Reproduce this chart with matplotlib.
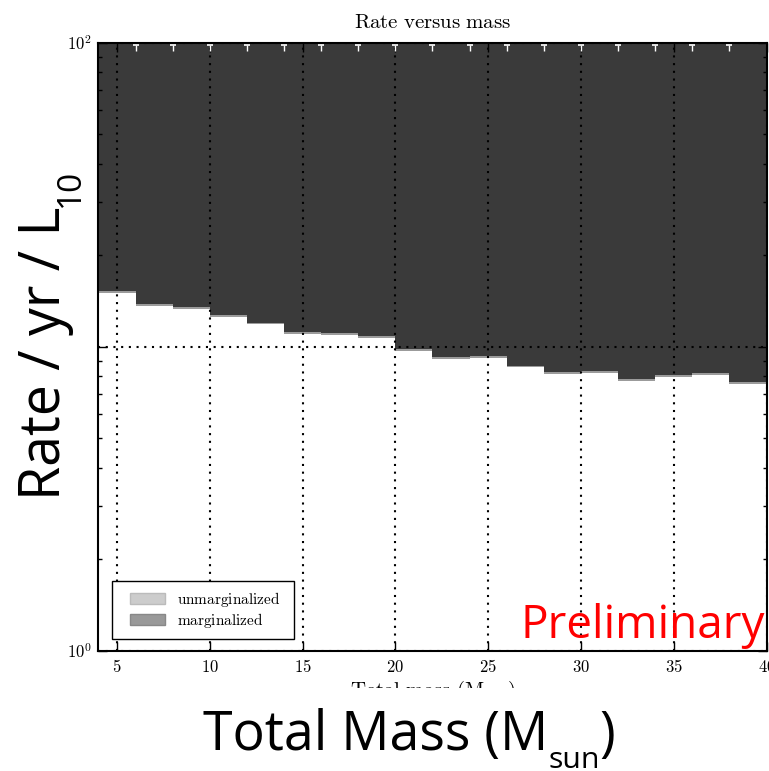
import numpy as np
import matplotlib
matplotlib.use("Agg")
import matplotlib.pyplot as plt
import matplotlib.transforms as mtransforms
from matplotlib.patches import Patch, Rectangle
from matplotlib.legend_handler import HandlerPatch
from matplotlib.ticker import FixedLocator, FuncFormatter, LogLocator, NullFormatter

plt.rcParams["mathtext.fontset"] = "cm"

# Total-mass bins (M_sun) and the rate upper limits in each bin
mass_edges = np.arange(4, 42, 2)
rate_unmarg = [15.24, 13.81, 13.56, 12.74, 12.02, 11.17, 11.07, 10.86, 9.87,
               9.24, 9.35, 8.68, 8.29, 8.33, 7.84, 8.08, 8.19, 7.68]
rate_marg = [15.00, 13.60, 13.35, 12.55, 11.85, 11.00, 10.90, 10.70, 9.72,
             9.10, 9.22, 8.56, 8.16, 8.22, 7.72, 7.97, 8.08, 7.55]
x_ticks = [5, 10, 15, 20, 25, 30, 35, 40]
y_ticks = [1, 10, 100]
y_labelled = [1, 100]
legend_labels = ["unmarginalized", "marginalized"]

W, H = 769, 771
fig = plt.figure(figsize=(W / 100, H / 100), dpi=100)
ax = fig.add_axes([98.5 / W, 1 - 650.7 / H, 668 / W, (650.7 - 43) / H])

ax.stairs(rate_marg, mass_edges, baseline=100, fill=True,
          facecolor="#9b9b9b", edgecolor="none", lw=0, zorder=1)
ax.stairs(rate_unmarg, mass_edges, baseline=100, fill=True,
          facecolor="#3a3a3a", edgecolor="none", lw=0, zorder=1.1)

ax.set_yscale("log")
ax.set_xlim(mass_edges[0], mass_edges[-1])
ax.set_ylim(y_ticks[0], y_ticks[-1])

ax.set_xticks(x_ticks)
ax.xaxis.set_major_formatter(FuncFormatter(lambda v, p: f"${v:g}$"))
ax.yaxis.set_major_locator(FixedLocator(y_ticks))


def ylab(v, p):
    if not any(np.isclose(v, y_labelled)):
        return ""
    return f"$10^{{{int(round(np.log10(v)))}}}$"


ax.yaxis.set_major_formatter(FuncFormatter(ylab))
ax.yaxis.set_minor_locator(LogLocator(base=10, subs=range(2, 10)))
ax.yaxis.set_minor_formatter(NullFormatter())

ax.grid(True, which="major", color="k", linestyle=(0, (1, 2.7)), linewidth=1.5)
ax.tick_params(which="both", direction="in", top=True, right=True, width=1)
ax.tick_params(which="major", length=6.5, labelsize=12, pad=5)
ax.tick_params(which="minor", length=3)
for s in ax.spines.values():
    s.set_linewidth(1.5)

# white caps hanging from the top of the plot at the inner bin edges
inner = mass_edges[1:-1]
cap_tr = mtransforms.offset_copy(ax.transData, fig=fig, x=0, y=-1.5, units="dots")
ax.plot(inner, np.full(len(inner), 100.0), ls="none", marker=3, ms=4.5, mew=1,
        color="w", transform=cap_tr, clip_on=False, zorder=4)
ax.plot(inner, np.full(len(inner), 100.0), ls="none", marker="_", ms=4.5, mew=1.2,
        color="w", transform=cap_tr, clip_on=False, zorder=4)

handles = [Patch(facecolor="#cccccc", edgecolor="#bbbbbb"),
           Patch(facecolor="#999999", edgecolor="#888888")]
leg = ax.legend(handles, [rf"$\mathrm{{{t}}}$" for t in legend_labels],
                loc="lower left", bbox_to_anchor=(0.0202, 0.0193, 0.2725, 0.092),
                mode="expand", borderaxespad=0, fontsize=11, fancybox=False,
                framealpha=1, borderpad=0.6, handlelength=2.86,
                handletextpad=0.78, labelspacing=0.12,
                handler_map={Patch: HandlerPatch(xpad=0.575)})
leg.get_frame().set_edgecolor("k")
leg.get_frame().set_linewidth(1)
leg.set_zorder(5)

ax.set_xlabel(r"$\mathrm{Total\ mass\ (M_{sun})}$", fontsize=15, labelpad=2)

fig.text(432.5 / W, 1 - 28 / H, r"$\mathrm{Rate\ versus\ mass}$",
         fontsize=15, ha="center", va="baseline")

# white panel behind the large x label
fig.add_artist(Rectangle((0, 0), 1, (H - 688) / H, transform=fig.transFigure,
                         facecolor="w", edgecolor="none", zorder=5))

renderer = fig.canvas.get_renderer()
big = dict(family="Open Sans", color="k", zorder=6)

# x label with subscript
FX = 38.6
t1 = fig.text(203 / W, 1 - 750 / H, "Total Mass (M", fontsize=FX,
              ha="left", va="baseline", **big)
b1 = t1.get_window_extent(renderer)
t2 = fig.text(b1.x1 / W, 1 - 768 / H, "sun", fontsize=FX * 0.565,
              ha="left", va="baseline", **big)
b2 = t2.get_window_extent(renderer)
fig.text(b2.x1 / W, 1 - 750 / H, ")", fontsize=FX, ha="left", va="baseline", **big)

# y label with subscript
FY = 40
y1 = fig.text(60 / W, 1 - 500 / H, "Rate / yr / L", fontsize=FY, rotation=90,
              rotation_mode="anchor", ha="left", va="baseline", **big)
yb = y1.get_window_extent(renderer)
fig.text(79 / W, yb.y1 / H, "10", fontsize=FY * 0.6, rotation=90,
         rotation_mode="anchor", ha="left", va="baseline", **big)

fig.text(765 / W, 1 - 638 / H, "Preliminary", color="red", fontsize=33,
         family="Open Sans", ha="right", va="baseline", zorder=6)

fig.savefig("out.png", dpi=100)
